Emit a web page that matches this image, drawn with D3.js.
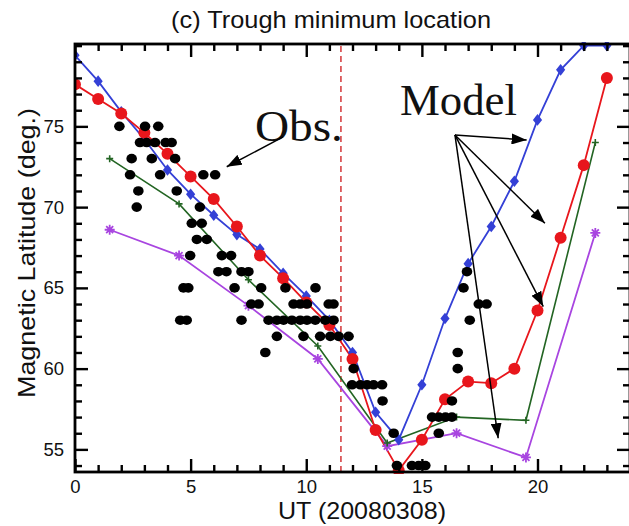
<!DOCTYPE html>
<html>
<head>
<meta charset="utf-8">
<script src="https://cdn.jsdelivr.net/npm/d3@7"></script>
<style>
  body { margin: 0; background: #fff; }
  svg { display: block; font-family: "Liberation Sans", Arial, Helvetica, sans-serif; }
  text { fill: #111; }
</style>
</head>
<body>
<svg id="chart" width="629" height="526"></svg>
<script>
// ---- data -------------------------------------------------------------
// hourly model runs (UT hour, magnetic latitude of the trough minimum)
const hourlyUT = d3.range(0, 24);
const blueLat = [79.4, 77.8, 75.9, 74.2, 72.3, 70.8, 69.5, 68.3, 67.4, 65.9, 64.5, 63.0,
                 61.0, 57.3, 55.6, 59.0, 63.1, 66.5, 68.8, 71.6, 75.4, 78.5, 80.0, 80.0];
const redLat  = [77.6, 76.7, 75.8, 74.6, 73.3, 71.9, 70.5, 68.8, 67.0, 65.6, 64.1, 62.7,
                 60.6, 56.2, 53.7, 55.6, 58.1, 59.2, 59.1, 60.0, 63.6, 68.1, 72.6, 78.0];

// three-hourly model runs
const threeHourUT = [1.5, 4.5, 7.5, 10.5, 13.5, 16.5, 19.5, 22.5];
const greenLat  = [73.0, 70.2, 65.5, 61.4, 55.4, 57.0, 56.8, 74.0];
const purpleLat = [68.6, 67.0, 63.9, 60.6, 55.2, 56.0, 54.5, 68.4];

// observed trough minimum positions
const obsUT = [
  1.92, 3.03, 3.60,
  2.81, 3.10, 3.46, 3.92, 4.18,
  2.45, 3.32, 4.33,
  2.38, 3.68, 5.55, 6.06,
  2.74, 4.40,
  2.67, 5.40,
  5.05, 5.48,
  5.27, 5.70,
  4.98, 6.35, 6.75,
  6.20, 6.55, 7.20, 7.50,
  4.69, 4.90, 6.90, 8.05, 9.10, 10.40,
  7.62, 7.94, 9.45, 9.74, 10.03, 10.97, 11.18,
  4.55, 4.83, 7.20, 8.37, 8.73, 9.02, 9.38, 9.74, 10.03, 10.39, 10.82, 11.18,
  8.73, 9.88, 10.60, 11.04, 11.40, 11.83,
  8.23,
  12.05,
  11.98, 12.34, 12.63, 12.91, 13.28,
  13.30,
  13.78, 15.73,
  15.44, 15.73, 16.02, 16.30,
  13.92, 14.57, 14.86, 15.15,
  16.30, 16.55, 16.55, 17.07, 17.46, 17.80, 16.80, 16.95
];
const obsLat = [
  75, 75, 75,
  74, 74, 74, 74, 74,
  73, 73, 73,
  72, 72, 72, 72,
  71, 71,
  70, 70,
  69, 69,
  68, 68,
  67, 67, 67,
  66, 66, 66, 66,
  65, 65, 65, 65, 65, 65,
  64, 64, 64, 64, 64, 64, 64,
  63, 63, 63, 63, 63, 63, 63, 63, 63, 63, 63, 63,
  62, 62, 62, 62, 62, 62,
  61,
  60,
  59, 59, 59, 59, 59,
  58,
  56, 56,
  57, 57, 57, 57,
  54, 54, 54, 54,
  58, 60, 61, 63, 64, 64, 65, 66
];

const xMajor = [0, 5, 10, 15, 20];
const yMajor = [55, 60, 65, 70, 75];
const dividerUT = 11.5;

// annotation arrows, in (UT, latitude)
const obsArrow = [[9.0, 74.35], [6.56, 72.5]];
const modelOrigin = [16.43, 74.47];
const modelTargets = [[19.53, 74.16], [20.32, 69.0], [20.25, 63.84], [18.3, 55.69]];

// ---- layout -----------------------------------------------------------
const svg = d3.select("#chart");
const plotLeft = 75, plotRight = 630, plotTop = 44, plotBottom = 472;

const x = d3.scaleLinear().domain([0, 24]).range([plotLeft, plotRight]);
const y = d3.scaleLinear().domain([53.6, 80.1]).range([plotBottom, plotTop]);

const colors = { blue: "#3440d6", red: "#e8161c", green: "#236523", purple: "#a845e0" };
const serif = "'Liberation Serif', 'Times New Roman', Times, serif";
const sans = "'Liberation Sans', Arial, Helvetica, sans-serif";

// arrow head
svg.append("defs").append("marker")
  .attr("id", "head")
  .attr("markerUnits", "userSpaceOnUse")
  .attr("viewBox", "0 0 15 11")
  .attr("refX", 15).attr("refY", 5.5)
  .attr("markerWidth", 15).attr("markerHeight", 11)
  .attr("orient", "auto")
  .append("path").attr("d", "M0,0 L15,5.5 L0,11 Z").attr("fill", "#000");

// title
svg.append("text")
  .attr("x", 331).attr("y", 28)
  .attr("text-anchor", "middle")
  .style("font-family", sans).style("font-size", "24px")
  .attr("textLength", 320).attr("lengthAdjust", "spacingAndGlyphs")
  .text("(c) Trough minimum location");

// clip region for the data
svg.append("clipPath").attr("id", "plotClip")
  .append("rect").attr("x", plotLeft).attr("y", plotTop - 2)
  .attr("width", plotRight - plotLeft).attr("height", plotBottom - plotTop + 4);

const plot = svg.append("g").attr("clip-path", "url(#plotClip)");

// dashed divider
plot.append("line")
  .attr("x1", x(dividerUT)).attr("x2", x(dividerUT))
  .attr("y1", y.range()[0]).attr("y2", y.range()[1])
  .attr("stroke", "#d0282a").attr("stroke-width", 1.4)
  .attr("stroke-dasharray", "6,4");

const line = d3.line().x(d => x(d[0])).y(d => y(d[1]));

const blue = hourlyUT.map((h, i) => [h, blueLat[i]]);
const red = hourlyUT.map((h, i) => [h, redLat[i]]);
const green = threeHourUT.map((h, i) => [h, greenLat[i]]);
const purple = threeHourUT.map((h, i) => [h, purpleLat[i]]);

[[purple, colors.purple, 1.8], [green, colors.green, 1.6], [blue, colors.blue, 1.8], [red, colors.red, 1.8]]
  .forEach(([pts, c, w]) => {
    plot.append("path").datum(pts).attr("d", line)
      .attr("fill", "none").attr("stroke", c).attr("stroke-width", w);
  });

// purple: asterisk markers
plot.append("g").selectAll("path").data(purple).join("path")
  .attr("transform", d => `translate(${x(d[0])},${y(d[1])})`)
  .attr("d", "M-5,0H5M0,-5V5M-3.5,-3.5L3.5,3.5M-3.5,3.5L3.5,-3.5")
  .attr("stroke", colors.purple).attr("stroke-width", 1.8).attr("fill", "none");

// green: small plus markers
plot.append("g").selectAll("path").data(green).join("path")
  .attr("transform", d => `translate(${x(d[0])},${y(d[1])})`)
  .attr("d", "M-3.5,0H3.5M0,-3.5V3.5")
  .attr("stroke", colors.green).attr("stroke-width", 1.6).attr("fill", "none");

// blue: diamonds
plot.append("g").selectAll("path").data(blue).join("path")
  .attr("transform", d => `translate(${x(d[0])},${y(d[1])})`)
  .attr("d", "M0,-5.8L4.6,0L0,5.8L-4.6,0Z")
  .attr("fill", colors.blue);

// red: circles
plot.append("g").selectAll("circle").data(red).join("circle")
  .attr("cx", d => x(d[0])).attr("cy", d => y(d[1])).attr("r", 6)
  .attr("fill", colors.red);

// observations
plot.append("g").selectAll("ellipse").data(obsUT.map((h, i) => [h, obsLat[i]])).join("ellipse")
  .attr("cx", d => x(d[0])).attr("cy", d => y(d[1]))
  .attr("rx", 5.3).attr("ry", 4.8)
  .attr("fill", "#000");

// ---- axes -------------------------------------------------------------
function styleAxis(g) {
  g.select(".domain").remove();
  g.selectAll(".tick line").attr("stroke", "#000").attr("stroke-width", 2.4);
  g.selectAll(".tick text").attr("fill", "#111")
    .style("font-family", sans).style("font-size", "18.5px");
}
const xMinor = d3.range(0, 25).filter(v => !xMajor.includes(v));
const yMinor = d3.range(54, 81).filter(v => !yMajor.includes(v));

svg.append("g").attr("transform", `translate(0,${plotBottom})`)
  .call(d3.axisBottom(x).tickValues(xMajor).tickFormat(d3.format("d")).tickSize(-13).tickPadding(8))
  .call(styleAxis);
svg.append("g").attr("transform", `translate(0,${plotBottom})`)
  .call(d3.axisBottom(x).tickValues(xMinor).tickFormat("").tickSize(-7))
  .call(styleAxis);
svg.append("g").attr("transform", `translate(0,${plotTop})`)
  .call(d3.axisTop(x).tickValues(xMajor).tickFormat("").tickSize(-13))
  .call(styleAxis);
svg.append("g").attr("transform", `translate(0,${plotTop})`)
  .call(d3.axisTop(x).tickValues(xMinor).tickFormat("").tickSize(-7))
  .call(styleAxis);

svg.append("g").attr("transform", `translate(${plotLeft},0)`)
  .call(d3.axisLeft(y).tickValues(yMajor).tickFormat(d3.format("d")).tickSize(-13).tickPadding(11))
  .call(styleAxis);
svg.append("g").attr("transform", `translate(${plotLeft},0)`)
  .call(d3.axisLeft(y).tickValues(yMinor).tickFormat("").tickSize(-7))
  .call(styleAxis);
svg.append("g").attr("transform", `translate(${plotRight},0)`)
  .call(d3.axisRight(y).tickValues(yMajor).tickFormat("").tickSize(-13))
  .call(styleAxis);
svg.append("g").attr("transform", `translate(${plotRight},0)`)
  .call(d3.axisRight(y).tickValues(yMinor).tickFormat("").tickSize(-7))
  .call(styleAxis);

// frame
svg.append("rect")
  .attr("x", plotLeft).attr("y", plotTop)
  .attr("width", plotRight - plotLeft).attr("height", plotBottom - plotTop)
  .attr("fill", "none").attr("stroke", "#000").attr("stroke-width", 2.8);

// axis titles
svg.append("text")
  .attr("x", 362).attr("y", 519)
  .attr("text-anchor", "middle")
  .style("font-family", sans).style("font-size", "24px")
  .attr("textLength", 168).attr("lengthAdjust", "spacingAndGlyphs")
  .text("UT (20080308)");

svg.append("text")
  .attr("transform", "translate(35,253) rotate(-90)")
  .attr("text-anchor", "middle")
  .style("font-family", sans).style("font-size", "24px")
  .attr("textLength", 290).attr("lengthAdjust", "spacingAndGlyphs")
  .text("Magnetic Latitude (deg.)");

// ---- annotations ------------------------------------------------------
const ann = svg.append("g");
ann.append("text")
  .attr("x", x(7.78)).attr("y", y(74.1))
  .style("font-family", serif).style("font-size", "44px")
  .attr("textLength", 88).attr("lengthAdjust", "spacingAndGlyphs")
  .text("Obs.");
ann.append("text")
  .attr("x", x(14.05)).attr("y", y(75.7))
  .style("font-family", serif).style("font-size", "45px")
  .attr("textLength", 117).attr("lengthAdjust", "spacingAndGlyphs")
  .text("Model");

ann.append("line")
  .attr("x1", x(obsArrow[0][0])).attr("y1", y(obsArrow[0][1]))
  .attr("x2", x(obsArrow[1][0])).attr("y2", y(obsArrow[1][1]))
  .attr("stroke", "#000").attr("stroke-width", 1.5).attr("marker-end", "url(#head)");

modelTargets.forEach(t => {
  ann.append("line")
    .attr("x1", x(modelOrigin[0])).attr("y1", y(modelOrigin[1]))
    .attr("x2", x(t[0])).attr("y2", y(t[1]))
    .attr("stroke", "#000").attr("stroke-width", 1.5).attr("marker-end", "url(#head)");
});
</script>
</body>
</html>
